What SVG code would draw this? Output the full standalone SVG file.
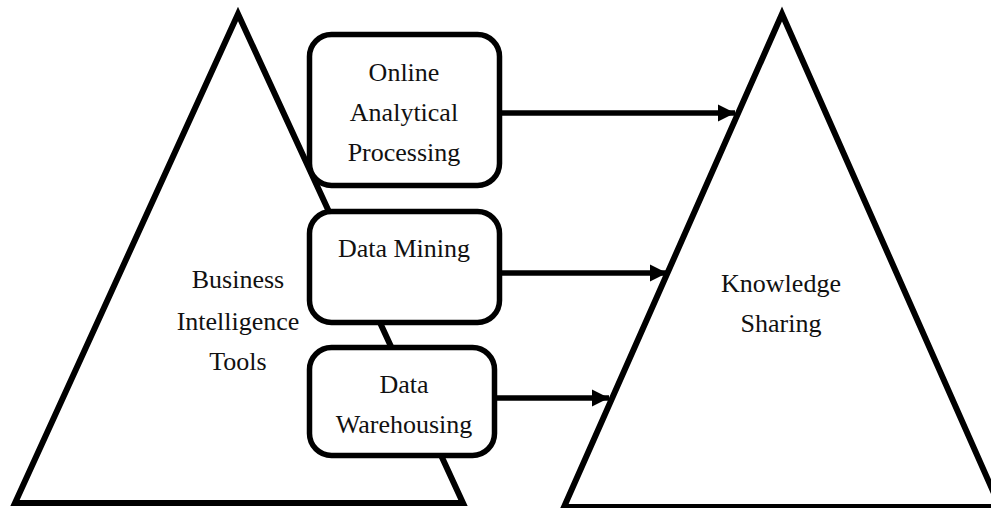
<svg xmlns="http://www.w3.org/2000/svg" width="991" height="508" viewBox="0 0 991 508">
  <style>
    .tri { fill: #ffffff; stroke: #000000; stroke-width: 6; stroke-linejoin: miter; stroke-miterlimit: 10; }
    .box { fill: #ffffff; stroke: #000000; stroke-width: 5.5; }
    .lbl { font-family: "Liberation Serif", "Times New Roman", serif; font-size: 26px; fill: #111111; text-anchor: middle; }
    .link { fill: none; stroke: #000000; stroke-width: 5.5; }
  </style>
  <defs>
    <marker id="arrowhead" markerUnits="userSpaceOnUse" markerWidth="18" markerHeight="18" refX="17" refY="9" orient="auto">
      <path d="M0,0.5 L17,9 L0,17.5 Z" fill="#000000"/>
    </marker>
  </defs>

  <rect width="991" height="508" fill="#ffffff"/>

  <!-- Business Intelligence Tools pyramid -->
  <g id="bi-tools">
    <polygon class="tri" points="238,14 15,503 463,503"/>
    <text class="lbl" x="238" y="288">Business</text>
    <text class="lbl" x="238" y="330">Intelligence</text>
    <text class="lbl" x="238" y="370">Tools</text>
  </g>

  <!-- Tool boxes -->
  <g id="olap">
    <rect class="box" x="309.5" y="34.5" width="190" height="151" rx="22" ry="22"/>
    <text class="lbl" x="404" y="81">Online</text>
    <text class="lbl" x="404" y="121">Analytical</text>
    <text class="lbl" x="404" y="161">Processing</text>
  </g>

  <g id="data-mining">
    <rect class="box" x="309.5" y="211.5" width="190" height="111" rx="22" ry="22"/>
    <text class="lbl" x="404" y="257">Data Mining</text>
  </g>

  <g id="data-warehousing">
    <rect class="box" x="309.5" y="347.5" width="185" height="108" rx="22" ry="22"/>
    <text class="lbl" x="404" y="393">Data</text>
    <text class="lbl" x="404" y="433">Warehousing</text>
  </g>

  <!-- Knowledge Sharing pyramid -->
  <g id="knowledge-sharing">
    <polygon class="tri" points="782,14 564,507 1000,507"/>
    <text class="lbl" x="781" y="292">Knowledge</text>
    <text class="lbl" x="781" y="332">Sharing</text>
  </g>

  <!-- Connectors -->
  <g id="connectors">
    <line class="link" x1="502" y1="113" x2="735" y2="113" marker-end="url(#arrowhead)"/>
    <line class="link" x1="502" y1="273" x2="667" y2="273" marker-end="url(#arrowhead)"/>
    <line class="link" x1="497" y1="398" x2="609" y2="398" marker-end="url(#arrowhead)"/>
  </g>
</svg>
